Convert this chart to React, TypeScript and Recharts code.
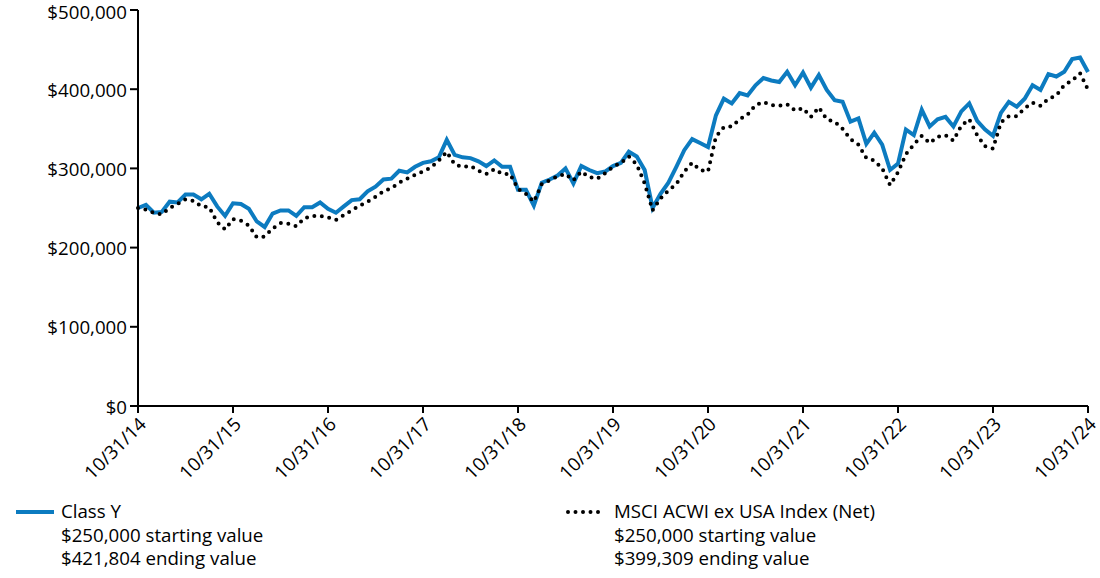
import { LineChart, Line, XAxis, YAxis } from "recharts";

// month index 0 = 10/31/14, 120 = 10/31/24
const tickMonths = [0, 12, 24, 36, 48, 60, 72, 84, 96, 108, 120];
const tickLabels = [
  "10/31/14", "10/31/15", "10/31/16", "10/31/17", "10/31/18", "10/31/19",
  "10/31/20", "10/31/21", "10/31/22", "10/31/23", "10/31/24",
];
const yTicks = [0, 100000, 200000, 300000, 400000, 500000];

// values in $ thousands
const classY = [
  250, 254, 244, 245, 258, 257, 267, 267, 261, 268, 252, 240,
  256, 255, 249, 233, 226, 243, 247, 247, 240, 251, 251, 257,
  249, 244, 252, 260, 261, 271, 277, 286, 287, 297, 295, 302,
  307, 309, 314, 336, 317, 314, 313, 309, 303, 310, 302, 302,
  273, 273, 253, 282, 286, 291, 300, 281, 303, 298, 294, 296,
  303, 307, 321, 315, 298, 250, 268, 282, 302, 323, 337, 332,
  327, 367, 388, 382, 395, 392, 405, 414, 411, 409, 422, 405,
  421, 402, 418, 399, 386, 384, 359, 363, 331, 345, 330, 298,
  306, 349, 342, 374, 353, 362, 365, 353, 372, 382, 360, 349,
  341, 370, 384, 378, 388, 405, 399, 419, 416, 422, 438, 440,
  421.804,
];
const msciAcwiExUsa = [
  250, 248, 244, 242, 250, 255, 261, 259, 252, 251, 232, 223,
  236, 234, 228, 213, 214, 224, 231, 230, 227, 237, 240, 240,
  238, 235, 241, 247, 253, 258, 264, 271, 275, 282, 287, 292,
  296, 301, 310, 321, 305, 302, 303, 297, 293, 299, 293, 293,
  274, 268, 258, 280, 285, 290, 293, 285, 296, 289, 287, 294,
  302, 307, 315, 305, 281, 247, 262, 272, 280, 296, 307, 298,
  296, 340, 352, 353, 362, 368, 380, 384, 380, 379, 381, 373,
  376, 365, 377, 362, 359, 350, 337, 330, 313, 310, 300, 279,
  295, 318, 330, 341, 332, 340, 342, 335, 354, 362, 342, 328,
  325, 358, 366, 366, 376, 383, 379, 388, 392, 405, 411, 420,
  399.309,
];

const data = classY.map((v, i) => ({
  m: i,
  classY: v * 1000,
  msci: msciAcwiExUsa[i] * 1000,
}));

const FONT = "'Open Sans', sans-serif";
const FS = 18.7;
const BLUE = "#0c7bc0";

const fmtMoney = (v: number) => "$" + v.toLocaleString("en-US");

export default function App() {
  return (
    <div style={{ position: "absolute", left: 0, top: 0, width: 1100, height: 578, background: "#fff", fontFamily: FONT }}>
      <LineChart
        width={1100}
        height={490}
        data={data}
        margin={{ top: 10, right: 12, left: 10, bottom: 14 }}
        style={{ overflow: "visible" }}
      >
        <XAxis
          dataKey="m"
          type="number"
          domain={[0, 120]}
          ticks={tickMonths}
          tickFormatter={(v) => tickLabels[tickMonths.indexOf(v)]}
          interval={0}
          height={70}
          angle={-45}
          textAnchor="end"
          tickSize={7}
          tickMargin={3}
          stroke="#000"
          strokeWidth={2}
          tick={{ fill: "#000", fontSize: FS, fontFamily: FONT }}
        />
        <YAxis
          domain={[0, 500000]}
          ticks={yTicks}
          tickFormatter={fmtMoney}
          width={128}
          tickSize={8}
          tickMargin={3}
          stroke="#000"
          strokeWidth={2}
          tick={{ fill: "#000", fontSize: FS, fontFamily: FONT, dy: 1 }}
        />
        <Line dataKey="classY" stroke={BLUE} strokeWidth={4} dot={false} isAnimationActive={false} />
        <Line
          dataKey="msci"
          stroke="#000"
          strokeWidth={4}
          strokeDasharray="0 7.5"
          strokeLinecap="round"
          dot={false}
          isAnimationActive={false}
        />
      </LineChart>
      <div style={{ position: "absolute", left: 16, top: 499, fontSize: FS, lineHeight: "23.7px", color: "#000" }}>
        <div style={{ display: "flex" }}>
          <svg width={45} height={24}>
            <line x1={0} y1={13} x2={38} y2={13} stroke={BLUE} strokeWidth={4} />
          </svg>
          <div>
            Class Y
            <br />
            $250,000 starting value
            <br />
            $421,804 ending value
          </div>
        </div>
      </div>
      <div style={{ position: "absolute", left: 566, top: 499, fontSize: FS, lineHeight: "23.7px", color: "#000" }}>
        <div style={{ display: "flex" }}>
          <svg width={48} height={24}>
            <line x1={2} y1={13} x2={38} y2={13} stroke="#000" strokeWidth={4} strokeDasharray="0 7.5" strokeLinecap="round" />
          </svg>
          <div>
            MSCI ACWI ex USA Index (Net)
            <br />
            $250,000 starting value
            <br />
            $399,309 ending value
          </div>
        </div>
      </div>
    </div>
  );
}
